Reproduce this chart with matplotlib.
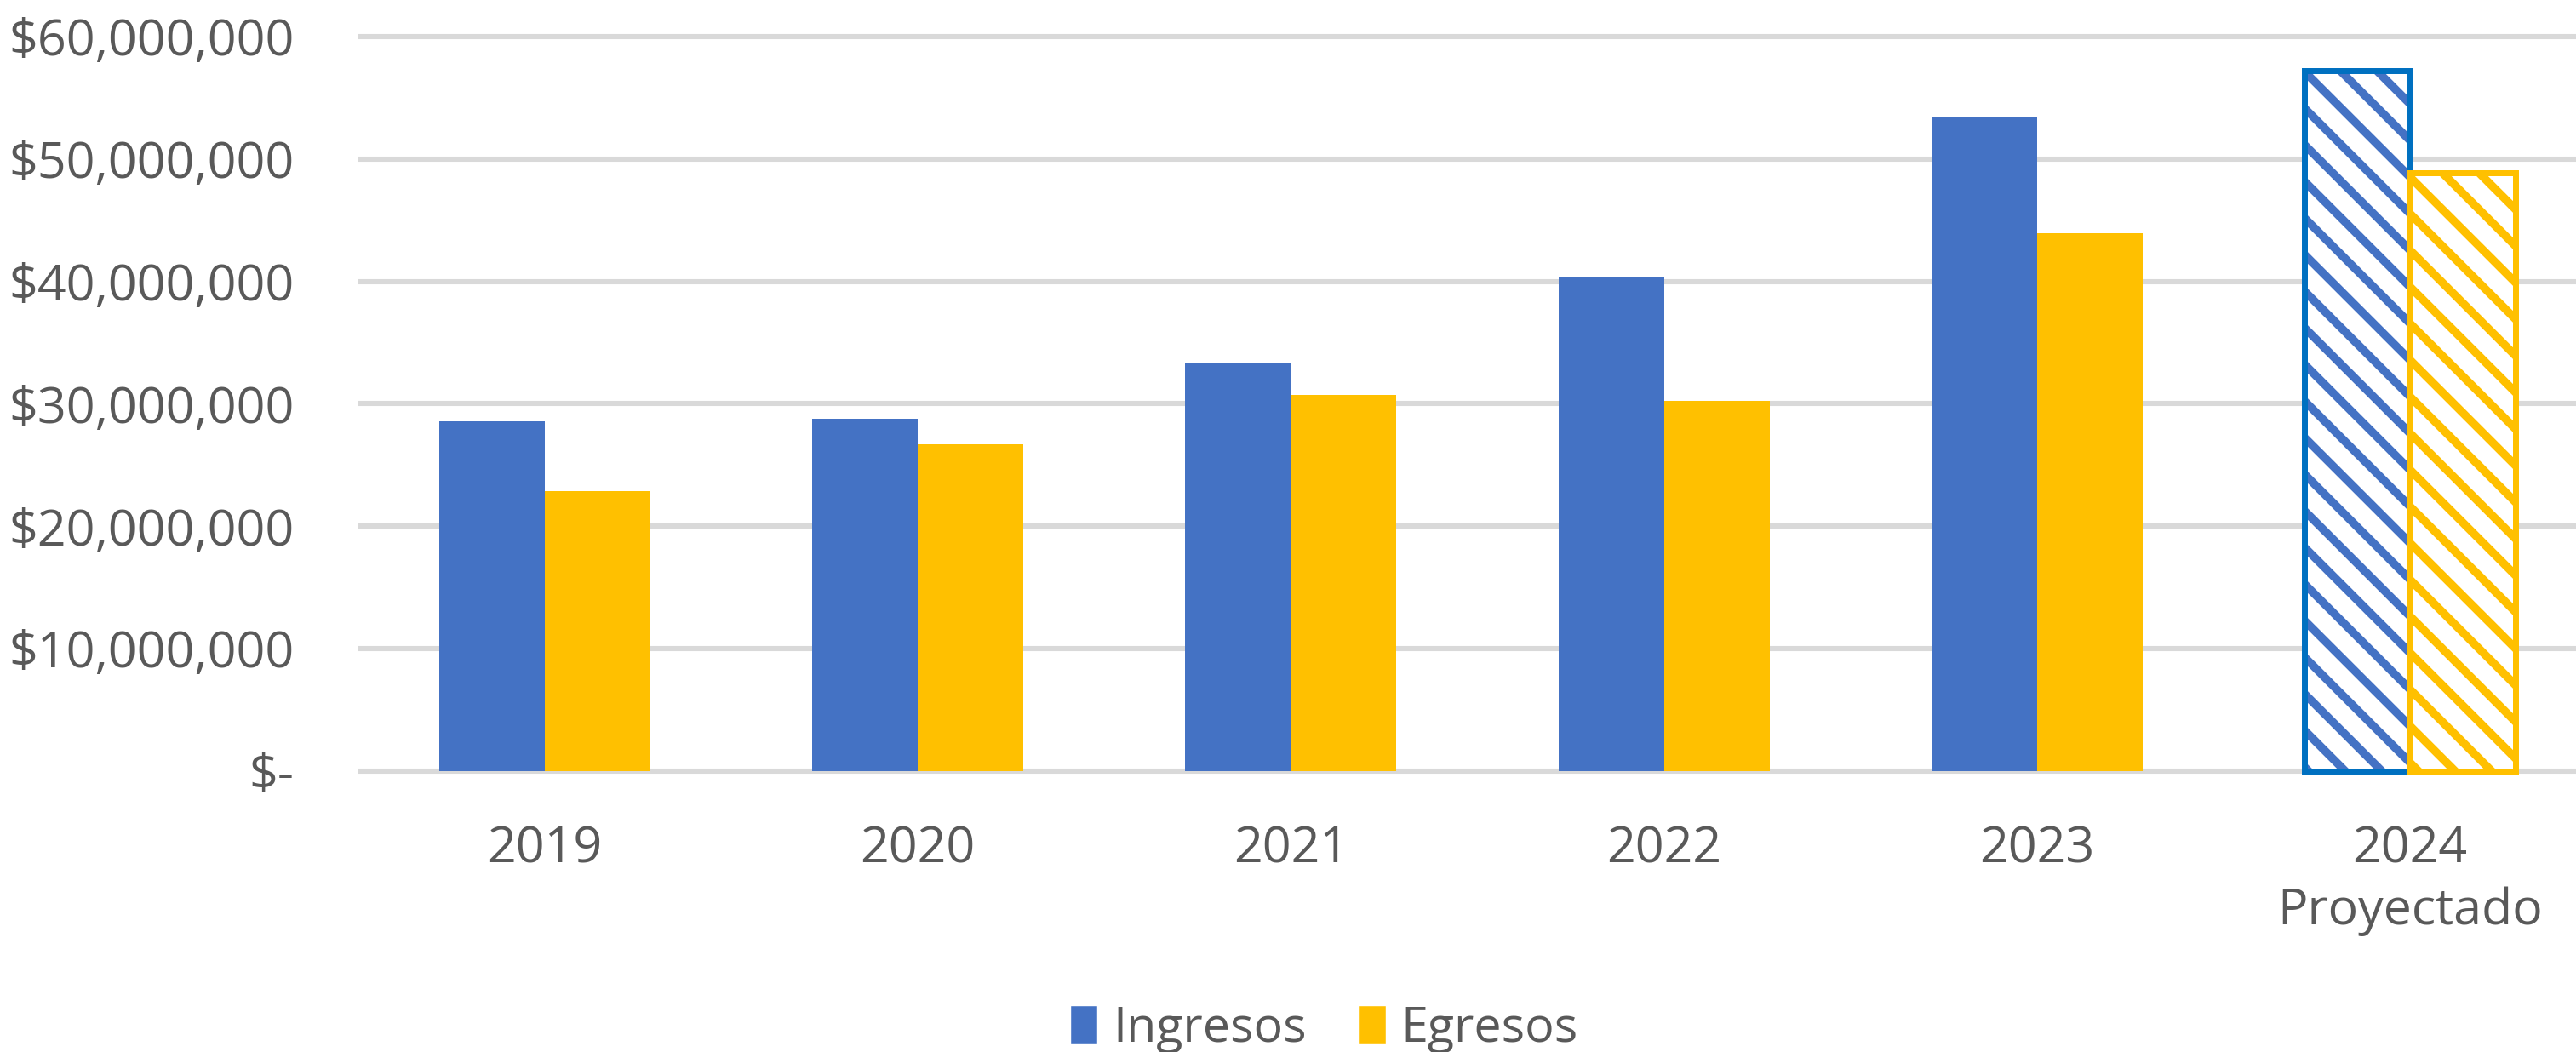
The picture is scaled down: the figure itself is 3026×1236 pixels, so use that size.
# Ingresos vs Egresos bar chart

# Importing Libraries
import numpy as np
import matplotlib.pyplot as plt
from matplotlib.ticker import FuncFormatter
from matplotlib.patches import Patch

# Data
years = ['2019', '2020', '2021', '2022', '2023', '2024\nProyectado']
ingresos = [28.6e6, 28.8e6, 33.3e6, 40.4e6, 53.4e6, 57.2e6]
egresos = [22.9e6, 26.7e6, 30.7e6, 30.25e6, 43.95e6, 48.9e6]
projected = [False, False, False, False, False, True]

# Style
blue = '#4472C4'
blue_edge = '#0070C0'
yellow = '#FFC000'
text_color = '#595959'
grid_color = '#D9D9D9'
plt.rcParams['font.family'] = ['Open Sans', 'DejaVu Sans']
plt.rcParams['hatch.linewidth'] = 2.7

dpi = 258
fig = plt.figure(figsize=(3026 / dpi, 1236 / dpi), dpi=dpi)
ax = fig.add_axes([0.1391, 0.2635, 0.8609, 0.7134])

x = np.arange(len(years))
w = 0.283
hatch = '\\' * 2  # two backslashes -> denser stripes

for i in range(len(years)):
    if projected[i]:
        # hatched bars with a solid outline
        ax.bar(x[i] - w / 2, ingresos[i], w, facecolor='white',
               edgecolor=blue, hatch=hatch, linewidth=0, zorder=2)
        ax.bar(x[i] - w / 2, ingresos[i], w, fill=False,
               edgecolor=blue_edge, linewidth=1.95, zorder=3)
        ax.bar(x[i] + w / 2, egresos[i], w, facecolor='white',
               edgecolor=yellow, hatch=hatch, linewidth=0, zorder=2)
        ax.bar(x[i] + w / 2, egresos[i], w, fill=False,
               edgecolor=yellow, linewidth=1.95, zorder=3)
    else:
        ax.bar(x[i] - w / 2, ingresos[i], w, color=blue, zorder=2)
        ax.bar(x[i] + w / 2, egresos[i], w, color=yellow, zorder=2)

# Axes
ax.set_xlim(-0.5, 5.445)
ax.set_ylim(-0.3e6, 61e6)
ax.set_yticks(np.arange(0, 60e6 + 1, 10e6))
ax.yaxis.set_major_formatter(
    FuncFormatter(lambda v, p: '$-' if v == 0 else '${:,.0f}'.format(v)))
ax.set_xticks(x)
ax.set_xticklabels(years, linespacing=1.3)
ax.grid(axis='y', color=grid_color, linewidth=1.7)
ax.set_axisbelow(True)
for s in ax.spines.values():
    s.set_visible(False)
ax.tick_params(axis='both', length=0, labelsize=16.5, labelcolor=text_color)
ax.tick_params(axis='y', pad=21)
ax.tick_params(axis='x', pad=16.5)

# Legend
handles = [Patch(color=blue, label='Ingresos'),
           Patch(color=yellow, label='Egresos')]
leg = fig.legend(handles=handles, loc='center', ncol=2,
                 bbox_to_anchor=(1557 / 3026, 1 - 1210 / 1236),
                 frameon=False, fontsize=16, handlelength=0.48,
                 handleheight=0.7, handletextpad=0.35, columnspacing=1.1)
for t in leg.get_texts():
    t.set_color(text_color)

fig.savefig('out.png', dpi=dpi)
